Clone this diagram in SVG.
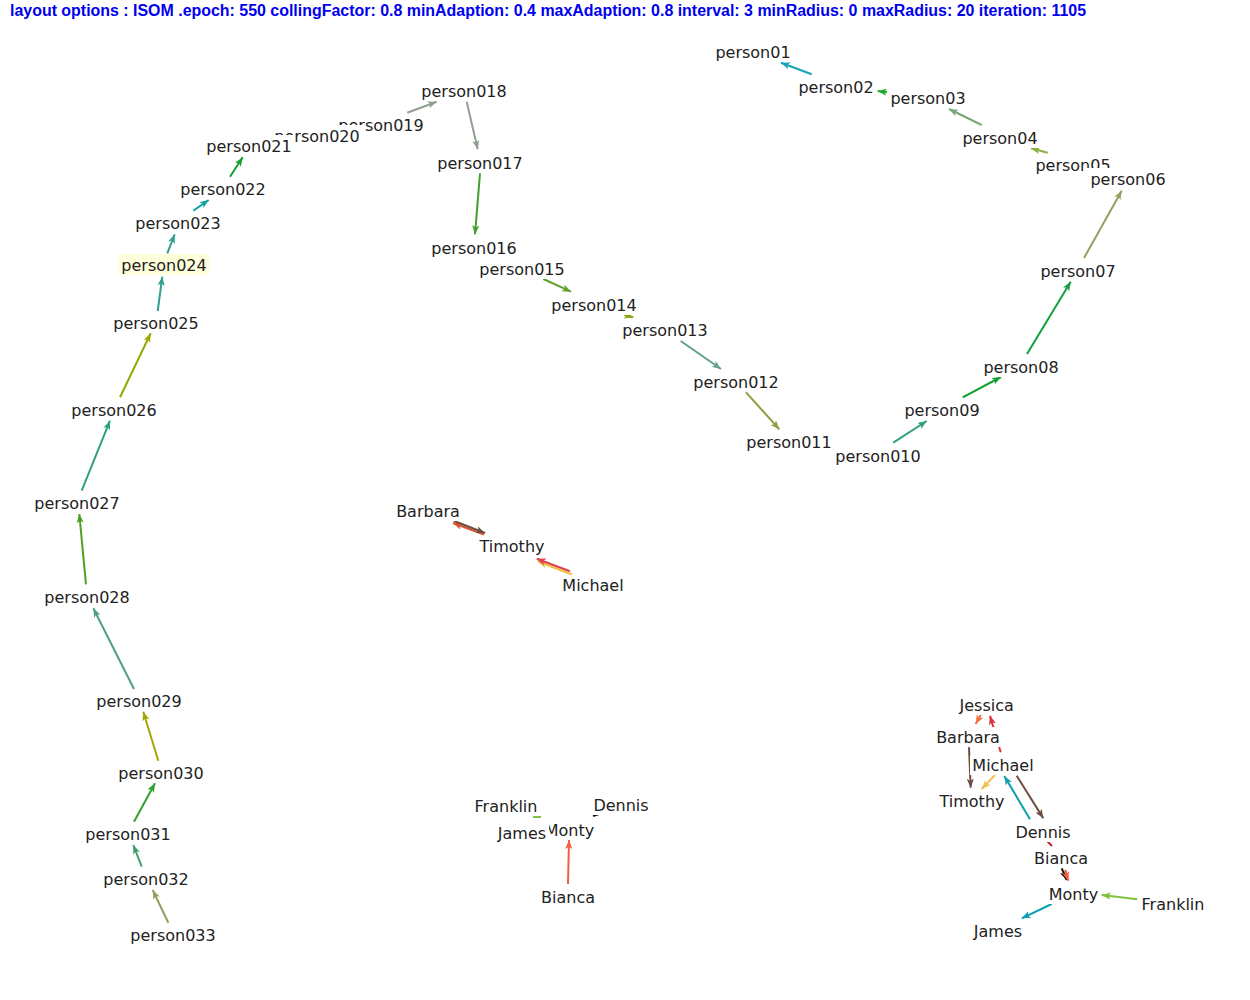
<svg xmlns="http://www.w3.org/2000/svg" width="1250" height="1000" viewBox="0 0 1250 1000">
<defs>
<style>
.hdr{font-family:"Liberation Sans",Arial,sans-serif;font-weight:bold;font-size:16px;fill:#0000ee}
.lbl{font-family:"DejaVu Sans",Verdana,sans-serif;font-size:16px;fill:#222;text-anchor:middle}
.bg{fill:#fff}
.hl{fill:#ffffdc}
.e{fill:none;stroke-width:2;marker-end:url(#arr)}
.s{fill:none;stroke-width:2}
</style>
<marker id="arr" viewBox="0 0 10 8" refX="10" refY="4" markerWidth="9" markerHeight="7.2" markerUnits="userSpaceOnUse" orient="auto">
<path d="M0,0 L10,4 L0,8 L2.5,4 z" fill="context-stroke"/>
</marker>
</defs>
<rect width="1250" height="1000" fill="#fff"/>
<text class="hdr" x="10" y="16" textLength="1076" lengthAdjust="spacingAndGlyphs">layout options : ISOM .epoch: 550 collingFactor: 0.8 minAdaption: 0.4 maxAdaption: 0.8 interval: 3 minRadius: 0 maxRadius: 20 iteration: 1105</text>
<g id="connectors">
<line class="e" stroke="#17a2b8" x1="811.7" y1="74.3" x2="781" y2="62.7"/>
<line class="e" stroke="#1aaa2a" x1="887" y1="92.3" x2="877.7" y2="91"/>
<line class="e" stroke="#78a878" x1="981.7" y1="125" x2="949" y2="109"/>
<line class="e" stroke="#8ab040" x1="1047.7" y1="152.7" x2="1031" y2="148.3"/>
<line class="e" stroke="#93a060" x1="1084" y1="258" x2="1121.7" y2="190.7"/>
<line class="e" stroke="#10a040" x1="1027" y1="354" x2="1070.7" y2="281.7"/>
<line class="e" stroke="#10a030" x1="962.7" y1="397.3" x2="1001" y2="377"/>
<line class="e" stroke="#30a080" x1="893.3" y1="442.7" x2="926.7" y2="421"/>
<line class="e" stroke="#8aa040" x1="746" y1="392.3" x2="779.3" y2="429.3"/>
<line class="e" stroke="#60a090" x1="680.7" y1="341" x2="721" y2="369"/>
<line class="e" stroke="#90a010" x1="624" y1="315" x2="633.3" y2="317.3"/>
<line class="e" stroke="#60a030" x1="543.3" y1="279" x2="571" y2="291.7"/>
<line class="e" stroke="#40a030" x1="480" y1="173.3" x2="475" y2="234.3"/>
<line class="e" stroke="#90a090" x1="466.7" y1="101.7" x2="477.7" y2="149.3"/>
<line class="e" stroke="#90a090" x1="407.3" y1="112.7" x2="436.7" y2="101.7"/>
<line class="e" stroke="#10a030" x1="230" y1="176.7" x2="242.7" y2="157.3"/>
<line class="e" stroke="#10a0a0" x1="193.3" y1="210.7" x2="208.7" y2="200"/>
<line class="e" stroke="#30a090" x1="167.3" y1="253.3" x2="174.7" y2="234.3"/>
<line class="e" stroke="#30a090" x1="157.7" y1="311" x2="162.3" y2="276.7"/>
<line class="e" stroke="#98a800" x1="120" y1="397.3" x2="150.7" y2="333.3"/>
<line class="e" stroke="#30a080" x1="81.7" y1="490.7" x2="110" y2="420.7"/>
<line class="e" stroke="#50a020" x1="86" y1="584.3" x2="79.3" y2="514"/>
<line class="e" stroke="#50a080" x1="134" y1="689" x2="93.3" y2="608.3"/>
<line class="e" stroke="#a0a800" x1="158.3" y1="760.7" x2="143.3" y2="711.7"/>
<line class="e" stroke="#30a030" x1="134" y1="821.7" x2="155" y2="783.3"/>
<line class="e" stroke="#40a070" x1="141.7" y1="866.7" x2="133.3" y2="845"/>
<line class="e" stroke="#90a060" x1="168.3" y1="922.7" x2="152.7" y2="890"/>
<line class="e" stroke="#e05030" x1="484" y1="534.5" x2="453" y2="523"/>
<line class="e" stroke="#6d4c41" x1="454" y1="521" x2="485" y2="533"/>
<line class="e" stroke="#f0c040" x1="572" y1="574.5" x2="538" y2="561.5"/>
<line class="e" stroke="#e04050" x1="570" y1="571.3" x2="536.7" y2="558.8"/>
<line class="e" stroke="#f06040" x1="568" y1="884" x2="569" y2="840"/>
<line class="s" stroke="#80c040" x1="533" y1="817" x2="541" y2="817"/>
<line class="s" stroke="#111" stroke-width="3" x1="593" y1="816" x2="599" y2="814"/>
<line class="e" stroke="#f07040" x1="981" y1="714.3" x2="975.7" y2="724"/>
<line class="e" stroke="#e03040" x1="1000.7" y1="752.3" x2="990" y2="715.7"/>
<line class="e" stroke="#6d4c41" x1="969" y1="747.3" x2="970.7" y2="787.7"/>
<line class="e" stroke="#f0c050" x1="995" y1="775" x2="981.7" y2="789"/>
<line class="e" stroke="#10a0b0" x1="1030" y1="819.3" x2="1004.3" y2="776"/>
<line class="e" stroke="#6d4c41" x1="1016.7" y1="775.7" x2="1043.3" y2="818.3"/>
<line class="s" stroke="#c02030" stroke-width="2.5" x1="1047.5" y1="841.5" x2="1052" y2="846"/>
<line class="e" stroke="#111" x1="1061.7" y1="868.3" x2="1066.7" y2="880"/>
<line class="e" stroke="#f06040" x1="1065" y1="870" x2="1068.3" y2="880.7"/>
<line class="e" stroke="#80c040" x1="1137.3" y1="899.3" x2="1101.7" y2="895"/>
<line class="e" stroke="#10a0b0" x1="1051.7" y1="904" x2="1021.7" y2="918.3"/>
</g>
<g id="person01"><rect class="bg" x="713" y="42" width="81" height="20"/><text class="lbl" x="753" y="58">person01</text></g>
<g id="person02"><rect class="bg" x="796" y="77" width="81" height="20"/><text class="lbl" x="836" y="93">person02</text></g>
<g id="person03"><rect class="bg" x="888" y="88" width="81" height="20"/><text class="lbl" x="928" y="104">person03</text></g>
<g id="person04"><rect class="bg" x="960" y="128" width="81" height="20"/><text class="lbl" x="1000" y="144">person04</text></g>
<g id="person05"><rect class="bg" x="1033" y="155" width="81" height="20"/><text class="lbl" x="1073" y="171">person05</text></g>
<g id="person06"><rect class="bg" x="1084" y="168" width="87" height="21"/><text class="lbl" x="1128" y="185">person06</text></g>
<g id="person07"><rect class="bg" x="1038" y="261" width="81" height="20"/><text class="lbl" x="1078" y="277">person07</text></g>
<g id="person08"><rect class="bg" x="981" y="357" width="81" height="20"/><text class="lbl" x="1021" y="373">person08</text></g>
<g id="person09"><rect class="bg" x="902" y="400" width="81" height="20"/><text class="lbl" x="942" y="416">person09</text></g>
<g id="person011"><rect class="bg" x="744" y="432" width="91" height="20"/><text class="lbl" x="789" y="448">person011</text></g>
<g id="person010"><rect class="bg" x="833" y="446" width="91" height="20"/><text class="lbl" x="878" y="462">person010</text></g>
<g id="person012"><rect class="bg" x="691" y="372" width="91" height="20"/><text class="lbl" x="736" y="388">person012</text></g>
<g id="person013"><rect class="bg" x="620" y="320" width="91" height="20"/><text class="lbl" x="665" y="336">person013</text></g>
<g id="person014"><rect class="bg" x="549" y="295" width="91" height="20"/><text class="lbl" x="594" y="311">person014</text></g>
<g id="person016"><rect class="bg" x="429" y="238" width="91" height="20"/><text class="lbl" x="474" y="254">person016</text></g>
<g id="person015"><rect class="bg" x="477" y="259" width="91" height="20"/><text class="lbl" x="522" y="275">person015</text></g>
<g id="person017"><rect class="bg" x="435" y="153" width="91" height="20"/><text class="lbl" x="480" y="169">person017</text></g>
<g id="person018"><rect class="bg" x="419" y="81" width="91" height="20"/><text class="lbl" x="464" y="97">person018</text></g>
<g id="person019"><rect class="bg" x="336" y="115" width="91" height="20"/><text class="lbl" x="381" y="131">person019</text></g>
<g id="person020"><rect class="bg" x="272" y="125" width="92" height="21"/><text class="lbl" x="317" y="142">person020</text></g>
<g id="person021"><rect class="bg" x="204" y="135" width="91" height="21"/><text class="lbl" x="249" y="152">person021</text></g>
<g id="person022"><rect class="bg" x="178" y="179" width="91" height="20"/><text class="lbl" x="223" y="195">person022</text></g>
<g id="person023"><rect class="bg" x="133" y="213" width="91" height="20"/><text class="lbl" x="178" y="229">person023</text></g>
<g id="person024"><rect class="hl" x="119" y="254" width="90" height="21"/><text class="lbl" x="164" y="271">person024</text></g>
<g id="person025"><rect class="bg" x="111" y="313" width="91" height="20"/><text class="lbl" x="156" y="329">person025</text></g>
<g id="person026"><rect class="bg" x="69" y="400" width="91" height="20"/><text class="lbl" x="114" y="416">person026</text></g>
<g id="person027"><rect class="bg" x="32" y="493" width="91" height="20"/><text class="lbl" x="77" y="509">person027</text></g>
<g id="person028"><rect class="bg" x="42" y="587" width="91" height="20"/><text class="lbl" x="87" y="603">person028</text></g>
<g id="person029"><rect class="bg" x="94" y="691" width="91" height="20"/><text class="lbl" x="139" y="707">person029</text></g>
<g id="person030"><rect class="bg" x="116" y="763" width="91" height="20"/><text class="lbl" x="161" y="779">person030</text></g>
<g id="person031"><rect class="bg" x="83" y="824" width="91" height="20"/><text class="lbl" x="128" y="840">person031</text></g>
<g id="person032"><rect class="bg" x="101" y="869" width="91" height="20"/><text class="lbl" x="146" y="885">person032</text></g>
<g id="person033"><rect class="bg" x="128" y="925" width="91" height="20"/><text class="lbl" x="173" y="941">person033</text></g>
<g id="g1-Barbara"><rect class="bg" x="394" y="501" width="69" height="20"/><text class="lbl" x="428" y="517">Barbara</text></g>
<g id="g1-Timothy"><rect class="bg" x="476" y="536" width="72" height="20"/><text class="lbl" x="512" y="552">Timothy</text></g>
<g id="g1-Michael"><rect class="bg" x="560" y="575" width="67" height="20"/><text class="lbl" x="593" y="591">Michael</text></g>
<g id="g2-Franklin"><rect class="bg" x="471" y="796" width="70" height="20"/><text class="lbl" x="506" y="812">Franklin</text></g>
<g id="g2-Dennis"><rect class="bg" x="590" y="795" width="62" height="20"/><text class="lbl" x="621" y="811">Dennis</text></g>
<g id="g2-Monty"><rect class="bg" x="542" y="820" width="55" height="20"/><text class="lbl" x="569.5" y="836">Monty</text></g>
<g id="g2-James"><rect class="bg" x="495" y="823" width="54" height="20"/><text class="lbl" x="522" y="839">James</text></g>
<g id="g2-Bianca"><rect class="bg" x="538" y="887" width="60" height="20"/><text class="lbl" x="568" y="903">Bianca</text></g>
<g id="g3-Jessica"><rect class="bg" x="956" y="695" width="61" height="20"/><text class="lbl" x="986.7" y="711">Jessica</text></g>
<g id="g3-Barbara"><rect class="bg" x="935" y="727" width="67" height="20"/><text class="lbl" x="968" y="743">Barbara</text></g>
<g id="g3-Michael"><rect class="bg" x="970" y="755" width="67" height="20"/><text class="lbl" x="1003" y="771">Michael</text></g>
<g id="g3-Timothy"><rect class="bg" x="937" y="791" width="72" height="20"/><text class="lbl" x="972" y="807">Timothy</text></g>
<g id="g3-Dennis"><rect class="bg" x="1013" y="822" width="61" height="20"/><text class="lbl" x="1043" y="838">Dennis</text></g>
<g id="g3-Bianca"><rect class="bg" x="1032" y="848" width="59" height="20"/><text class="lbl" x="1061" y="864">Bianca</text></g>
<g id="g3-Monty"><rect class="bg" x="1046" y="884" width="55" height="20"/><text class="lbl" x="1073.5" y="900">Monty</text></g>
<g id="g3-Franklin"><rect class="bg" x="1139" y="894" width="69" height="20"/><text class="lbl" x="1173" y="910">Franklin</text></g>
<g id="g3-James"><rect class="bg" x="971" y="921" width="54" height="20"/><text class="lbl" x="998" y="937">James</text></g>
</svg>
